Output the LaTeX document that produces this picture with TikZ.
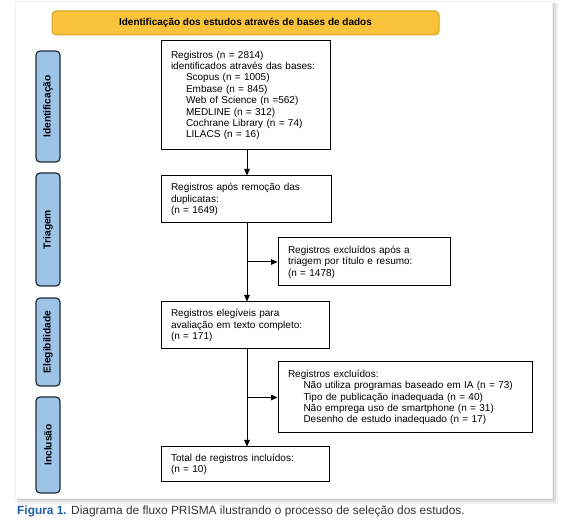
\documentclass[tikz,border=0pt]{standalone}
\usepackage{fontspec}
\setmainfont{Liberation Sans}
\usetikzlibrary{arrows.meta}
\definecolor{bannerfill}{HTML}{F9C33B}
\definecolor{bannerline}{HTML}{D9A424}
\definecolor{labfill}{HTML}{9DC3E6}
\definecolor{labline}{HTML}{1E2B38}
\definecolor{capblue}{HTML}{1F5EA8}
\definecolor{captext}{HTML}{333333}
\begin{document}
\begin{tikzpicture}[x=1pt,y=-1pt,
 box/.style={draw=black, line width=1pt, fill=white, inner xsep=10pt, inner ysep=0pt, align=left, font=\fontsize{10}{11.4}\selectfont},
 phase/.style={draw=labline, line width=1.2pt, fill=labfill, rounded corners=4pt, rotate=90, minimum height=24pt, inner sep=0pt, font=\fontsize{10.2}{12}\selectfont\bfseries},
 banner/.style={draw=bannerline, line width=1pt, fill=bannerfill, rounded corners=4pt, minimum width=387pt, minimum height=24pt, inner sep=0pt, font=\fontsize{10}{12}\selectfont\bfseries},
 arr/.style={line width=1pt, -{Triangle[length=6.5pt,width=5.5pt]}},
]
\useasboundingbox (0,0) rectangle (566,526);
\fill[white] (0,0) rectangle (566,526);
% card with shadow
\fill[gray!12] (17,3) rectangle (558,504);
\fill[gray!25] (17,3) rectangle (556,502);
\fill[gray!40] (17,3) rectangle (554,500);
\filldraw[draw=gray!12, fill=white, line width=0.6pt] (15,1) rectangle (552,498);

% banner
\node[banner] (ban) at (245.5,23) {Identificação dos estudos através de bases de dados};

% phase labels
\node[phase, minimum width=111pt] (pid) at (48,106.5) {Identificação};
\node[phase, minimum width=113pt] (ptr) at (48,229.5) {Triagem};
\node[phase, minimum width=88pt] (pel) at (48,342) {Elegibilidade};
\node[phase, minimum width=96pt] (pin) at (48,445) {Inclusão};

% boxes
\node[box, text width=149pt, minimum height=109pt] (b1) at (245.5,95.5) {Registros (n = 2814)\\
identificados através das bases:\\
\hspace*{15pt}Scopus (n = 1005)\\
\hspace*{15pt}Embase (n = 845)\\
\hspace*{15pt}Web of Science (n =562)\\
\hspace*{15pt}MEDLINE (n = 312)\\
\hspace*{15pt}Cochrane Library (n = 74)\\
\hspace*{15pt}LILACS (n = 16)};

\node[box, text width=150pt, minimum height=47pt] (b2) at (246,199.5) {Registros após remoção das\\ duplicatas:\\ (n = 1649)};

\node[box, text width=152pt, minimum height=48pt] (b3) at (364,262) {Registros excluídos após a\\ triagem por título e resumo:\\ (n = 1478)};

\node[box, text width=148pt, minimum height=47pt] (b4) at (245,325.5) {Registros elegíveis para\\ avaliação em texto completo:\\ (n = 171)};

\node[box, text width=234pt, minimum height=71pt] (b5) at (405,397.5) {Registros excluídos:\\
\hspace*{15.5pt}Não utiliza programas baseado em IA (n = 73)\\
\hspace*{15.5pt}Tipo de publicação inadequada (n = 40)\\
\hspace*{15.5pt}Não emprega uso de smartphone (n = 31)\\
\hspace*{15.5pt}Desenho de estudo inadequado (n = 17)};

\node[box, text width=148pt, minimum height=35pt] (b6) at (245,464.5) {Total de registros incluídos:\\ (n = 10)};

% connectors
\coordinate (sx) at (247,0);
\draw[arr] (b1.south -| sx) -- (b2.north -| sx);
\draw[arr] (b2.south -| sx) -- (b4.north -| sx);
\draw[arr] (b4.south -| sx) -- (b6.north -| sx);
\draw[arr] (b3.west -| sx) -- (b3.west);
\draw[arr] (b5.west -| sx) -- (b5.west);

% caption
\node[anchor=base west, inner sep=0pt, font=\fontsize{11.9}{14}\selectfont] (cap) at (17,514.5) {{\bfseries\color{capblue}Figura 1.} \color{captext}Diagrama de fluxo PRISMA ilustrando o processo de seleção dos estudos.};
\end{tikzpicture}
\end{document}
